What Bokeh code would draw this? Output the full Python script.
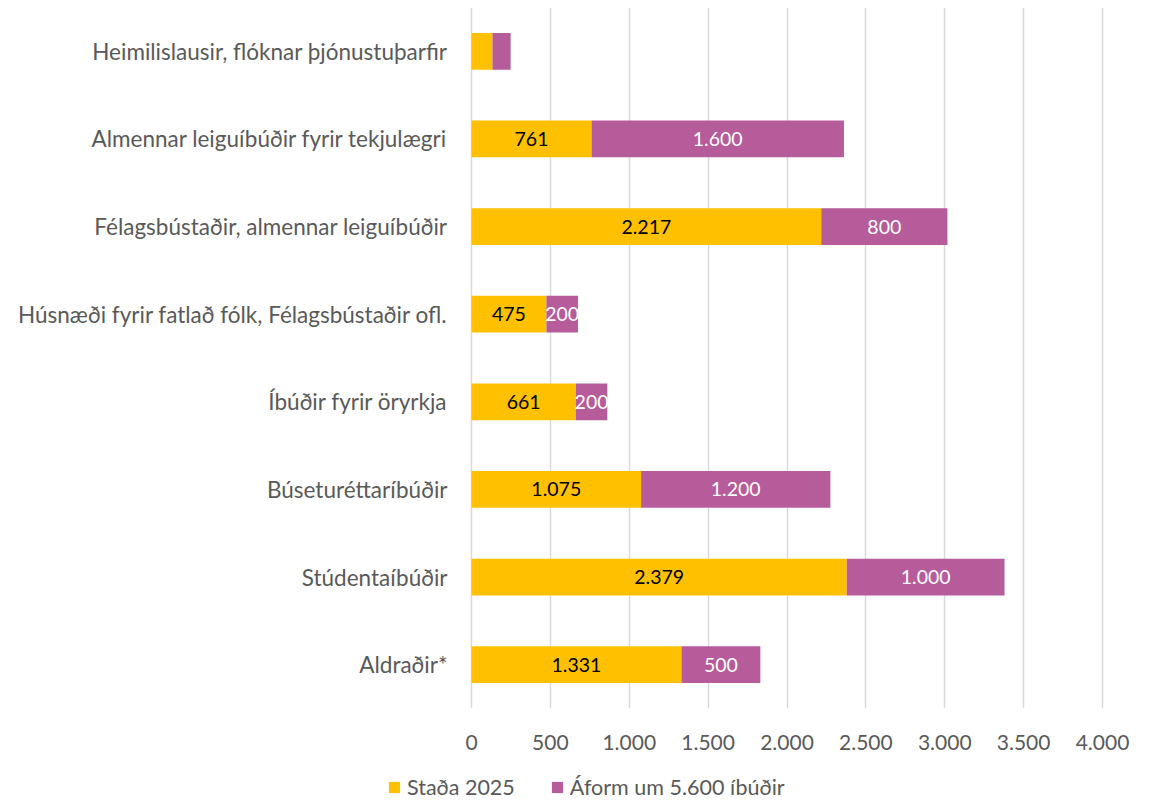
from bokeh.plotting import figure
from bokeh.layouts import column
from bokeh.models import (FactorRange, Range1d, FixedTicker, Legend, LegendItem,
                          ColumnDataSource, LabelSet)
from bokeh.core.properties import value
from bokeh.embed import file_html
from bokeh.resources import INLINE

categories = [
    "Heimilislausir, flóknar þjónustuþarfir",
    "Almennar leiguíbúðir fyrir tekjulægri",
    "Félagsbústaðir, almennar leiguíbúðir",
    "Húsnæði fyrir fatlað fólk, Félagsbústaðir ofl.",
    "Íbúðir fyrir öryrkja",
    "Búseturéttaríbúðir",
    "Stúdentaíbúðir",
    "Aldraðir*",
]
stada_2025 = [133, 761, 2217, 475, 661, 1075, 2379, 1331]
aform = [115, 1600, 800, 200, 200, 1200, 1000, 500]
show_label = [False, True, True, True, True, True, True, True]
series_names = ["Staða 2025", "Áform um 5.600 íbúðir"]
tick_values = [0, 500, 1000, 1500, 2000, 2500, 3000, 3500, 4000]
tick_labels = ["0", "500", "1.000", "1.500", "2.000", "2.500", "3.000", "3.500", "4.000"]

YELLOW = "#FFC000"
PURPLE = "#B65C9A"
FONT = "Lato"
GRAY = "#595959"

# layout geometry (pixels)
W = 1141
AX_LEFT = 471      # where value 0 sits
AX_RIGHT = 1102    # where the last tick sits
XMAX = tick_values[-1]
upp = XMAX / (AX_RIGHT - AX_LEFT)  # data units per pixel


def fmt(v):
    return f"{v:,}".replace(",", ".")


totals = [a + b for a, b in zip(stada_2025, aform)]
src = ColumnDataSource(dict(
    cat=categories,
    zero=[0] * len(categories),
    s=stada_2025,
    a=aform,
    tot=totals,
    mid_s=[v / 2 for v in stada_2025],
    mid_a=[s + a / 2 for s, a in zip(stada_2025, aform)],
    lab_s=[fmt(v) if f else "" for v, f in zip(stada_2025, show_label)],
    lab_a=[fmt(v) if f else "" for v, f in zip(aform, show_label)],
))

p = figure(
    width=W, height=762,
    y_range=FactorRange(factors=list(reversed(categories))),
    x_range=Range1d(-AX_LEFT * upp, XMAX + (W - AX_RIGHT) * upp),
    output_backend="svg", toolbar_location=None,
    min_border_left=0, min_border_right=0,
    min_border_top=7, min_border_bottom=54,
)
p.outline_line_color = None
p.background_fill_color = "white"
p.border_fill_color = "white"

r1 = p.hbar(y="cat", left=0, right="s", height=0.42, fill_color=YELLOW,
            line_color=None, source=src)
r2 = p.hbar(y="cat", left="s", right="tot", height=0.42, fill_color=PURPLE,
            line_color=None, source=src)

p.add_layout(LabelSet(x="mid_s", y="cat", text="lab_s", source=src,
                      text_align="center", text_baseline="middle",
                      text_font=value(FONT), text_font_size="19.5px",
                      text_color="#000000"))
p.add_layout(LabelSet(x="mid_a", y="cat", text="lab_a", source=src,
                      text_align="center", text_baseline="middle",
                      text_font=value(FONT), text_font_size="19.5px",
                      text_color="#FFFFFF"))
# category labels
p.add_layout(LabelSet(x="zero", y="cat", text="cat", source=src,
                      x_offset=-24, text_align="right", text_baseline="middle",
                      text_font=value(FONT), text_font_size="22.5px",
                      text_color=GRAY))

# grid
p.ygrid.grid_line_color = None
p.xgrid.ticker = FixedTicker(ticks=tick_values)
p.xgrid.grid_line_color = "#D9D9D9"
p.xgrid.grid_line_width = 1.5

# x axis
xa = p.xaxis[0]
xa.ticker = FixedTicker(ticks=tick_values)
xa.major_label_overrides = {v: l for v, l in zip(tick_values, tick_labels)}
xa.axis_line_color = None
xa.major_tick_line_color = None
xa.minor_tick_line_color = None
xa.major_label_standoff = 20
xa.major_label_text_font = FONT
xa.major_label_text_font_size = "21px"
xa.major_label_text_color = GRAY

# y axis (labels drawn above as text)
p.yaxis.visible = False

# legend strip underneath (separate small figure so the legend is not clipped)
lg = figure(
    width=W, height=38, x_range=Range1d(0, 1), y_range=Range1d(0, 1),
    output_backend="svg", toolbar_location=None,
    min_border_left=0, min_border_right=0, min_border_top=0, min_border_bottom=0,
)
lg.axis.visible = False
lg.grid.visible = False
lg.outline_line_color = None
lg.border_fill_color = "white"
dummy = ColumnDataSource(dict(y=[-5], l=[-5], r=[-4]))
d1 = lg.hbar(y="y", left="l", right="r", height=0.5, fill_color=YELLOW,
             line_color=None, source=dummy)
d2 = lg.hbar(y="y", left="l", right="r", height=0.5, fill_color=PURPLE,
             line_color=None, source=dummy)
legend = Legend(
    items=[LegendItem(label=series_names[0], renderers=[d1]),
           LegendItem(label=series_names[1], renderers=[d2])],
    orientation="horizontal",
    location=(387, 0),
    glyph_width=14, glyph_height=14,
    label_standoff=6, spacing=35,
    padding=0, margin=0,
    border_line_color=None, background_fill_alpha=0,
    label_text_font=FONT, label_text_font_size="21.5px",
    label_text_color=GRAY,
)
lg.add_layout(legend, "center")

layout = column(p, lg, spacing=0)
open("out.html", "w").write(file_html(layout, INLINE))
